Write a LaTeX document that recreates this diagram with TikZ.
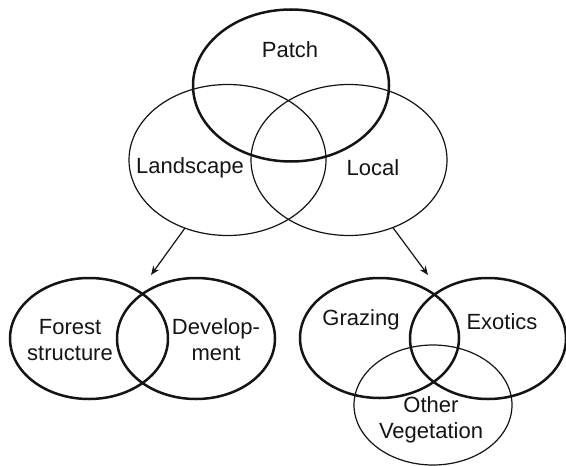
\documentclass[tikz,border=0pt]{standalone}
\usepackage{fontspec}
\setmainfont{Liberation Sans}
\usepackage{tikz}
\usetikzlibrary{arrows.meta,positioning,shapes.geometric}
\definecolor{ink}{RGB}{20,20,20}
\tikzset{
  ring/.style={ellipse,draw=ink,line width=0.6pt,inner sep=0pt,outer sep=0pt},
  bold ring/.style={ring,line width=1.25pt},
  lbl/.style={font=\fontsize{11}{13}\selectfont,text=ink,align=center,inner sep=0pt},
  arr/.style={-{Stealth[length=4.5pt,width=3.6pt]},draw=ink,line width=0.6pt}
}

\begin{document}
\begin{tikzpicture}[x=0.5pt,y=-0.5pt]
  \useasboundingbox (0,0) rectangle (566,465);
  % upper three scales
  \node[bold ring,minimum width=98pt,minimum height=76pt] (patch) at (291,85.5) {};
  \node[ring,minimum width=98.5pt,minimum height=75.5pt] (land) at (227.5,160) {};
  \node[ring,minimum width=98pt,minimum height=75.5pt] (local) at (349,160) {};
  \node[lbl] (patchtxt) at (290,50) {Patch};
  \node[lbl] (landtxt) at (190,168) {Landscape};
  \node[lbl] (localtxt) at (373,168) {Local};
  % landscape factors
  \node[bold ring,minimum width=79pt,minimum height=60.5pt] (forest) at (89,338.5) {};
  \node[bold ring,minimum width=79pt,minimum height=60.5pt] (devel) at (196,338.5) {};
  \node[lbl] (foresttxt) at (70,340) {Forest\\structure};
  \node[lbl] (develtxt) at (216,340) {Develop-\\ment};
  % local factors
  \node[bold ring,minimum width=79.5pt,minimum height=60pt] (graze) at (379.5,338) {};
  \node[bold ring,minimum width=78pt,minimum height=60.5pt] (exot) at (488,338.5) {};
  \node[ring,minimum width=79pt,minimum height=60pt] (otherveg) at (433,405) {};
  \node[lbl] (grazetxt) at (361,320) {Grazing};
  \node[lbl] (exottxt) at (502,322) {Exotics};
  \node[lbl] (othertxt) at (431,420) {Other\\Vegetation};
  % arrows down to the factor groups
  \coordinate (ltip) at (151,275);
  \coordinate (rtip) at (428,275);
  \draw[arr] (land.238) -- (ltip);
  \draw[arr] (local.303) -- (rtip);
\end{tikzpicture}
\end{document}
